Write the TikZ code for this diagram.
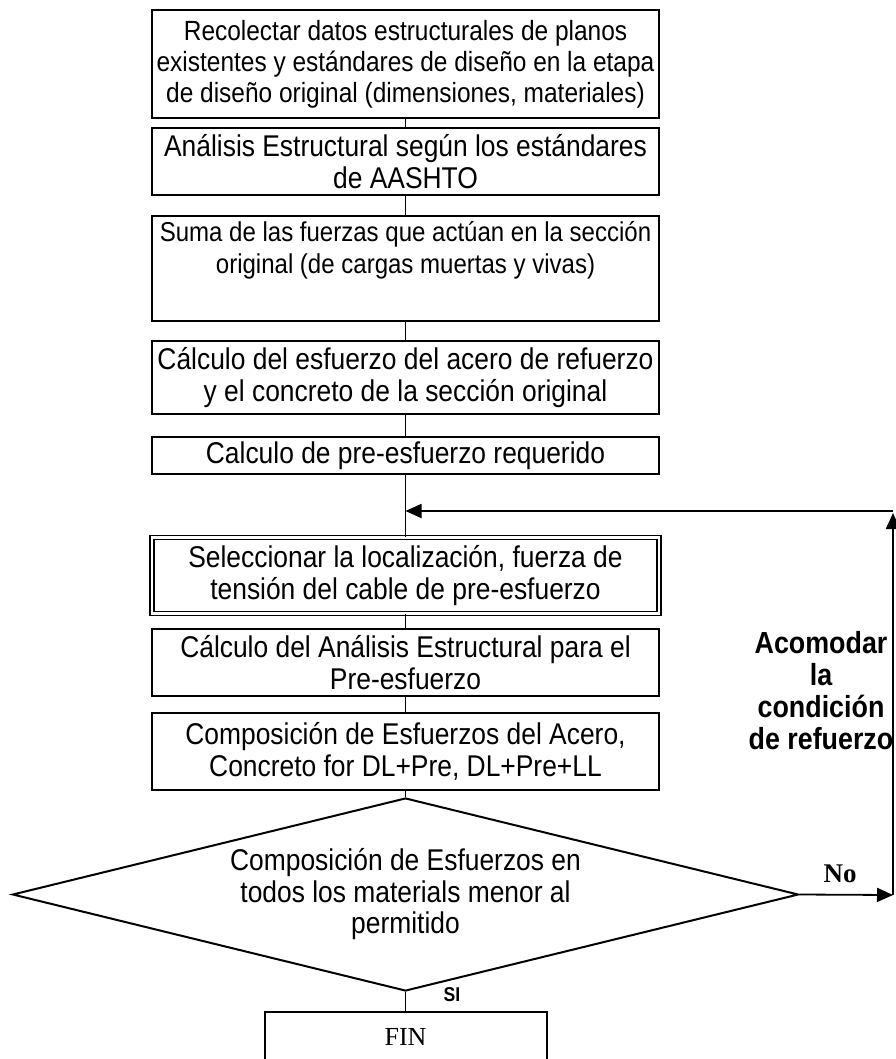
\documentclass[tikz,border=0pt]{standalone}
\usepackage{fontspec}
\setmainfont{Liberation Sans}[FakeStretch=0.88]
\newfontfamily\serifface{Liberation Serif}
\usetikzlibrary{shapes.geometric,arrows.meta}

\begin{document}
\begin{tikzpicture}[x=1pt,y=-1pt,
  stepbox/.style={draw, line width=2pt, minimum width=507pt, align=center,
    inner sep=0pt, font=\fontsize{30}{32}\selectfont},
  link/.style={line width=1.8pt},
  arrowlink/.style={line width=1.8pt, -{Triangle[length=16pt,width=14pt]}},
  ]
\useasboundingbox (0,0) rectangle (895,1059);

% process steps
\node[stepbox, minimum height=108pt, font=\fontsize{27.8}{31}\selectfont] (b1) at (405.5,64)
  {Recolectar datos estructurales de planos\\existentes y estándares de diseño en la etapa\\de diseño original (dimensiones, materiales)};
\node[stepbox, minimum height=67pt] (b2) at (405.5,161.5)
  {Análisis Estructural según los estándares\\de AASHTO};
\node[stepbox, minimum height=105pt, font=\fontsize{27.3}{32}\selectfont] (b3) at (405.5,268.5)
  {Suma de las fuerzas que actúan en la sección\\original (de cargas muertas y vivas)\\\strut};
\node[stepbox, minimum height=73pt] (b4) at (405.5,377.5)
  {Cálculo del esfuerzo del acero de refuerzo\\y el concreto de la sección original};
\node[stepbox, minimum height=37pt] (b5) at (405.5,455.5)
  {Calculo de pre-esfuerzo requerido};
\node[stepbox, minimum height=76pt, line width=1.4pt, double, double distance=2.6pt] (b6) at (405.5,575.5)
  {Seleccionar la localización, fuerza de\\tensión del cable de pre-esfuerzo};
\node[stepbox, minimum height=67pt] (b7) at (405.5,662.5)
  {Cálculo del Análisis Estructural para el\\Pre-esfuerzo};
\node[stepbox, minimum height=77pt] (b8) at (405.5,751.5)
  {Composición de Esfuerzos del Acero,\\Concreto for DL+Pre, DL+Pre+LL};

% decision
\node[diamond, draw, line width=2pt, aspect=4.07, minimum width=786pt, minimum height=193pt,
  inner sep=0pt, align=center, font=\fontsize{30}{31.5}\selectfont] (dec) at (405.5,894.5)
  {Composición de Esfuerzos en\\todos los materials menor al\\permitido};

% end
\node[draw, line width=2pt, minimum width=282pt, minimum height=50pt, inner sep=0pt,
  font=\serifface\fontsize{26}{30}\selectfont] (fin) at (405.5,1037) {FIN};

% labels
\node[font=\bfseries\fontsize{20}{22}\selectfont] (si) at (452,995) {SI};
\node[font=\serifface\bfseries\fontsize{27}{30}\selectfont] (no) at (840,874) {No};
\node[font=\bfseries\fontsize{30.5}{32}\selectfont, align=center] (fix) at (821,691)
  {Acomodar\\la\\condición\\de refuerzo};

% connectors
\draw[link] (b1.south) -- (b2.north);
\draw[link] (b2.south) -- (b3.north);
\draw[link] (b3.south) -- (b4.north);
\draw[link] (b4.south) -- (b5.north);
\draw[link] (b5.south) -- (b6.north);
\draw[link] (b6.south) -- (b7.north);
\draw[link] (b7.south) -- (b8.north);
\draw[link] (b8.south) -- (dec.north);
\draw[link] (dec.south) -- (fin.north);

% feedback loop
\coordinate (noend) at (893,895);
\coordinate (loop) at (893,511);
\draw[arrowlink] (dec.east) -- (noend);
\draw[arrowlink] (noend) -- ([yshift=-2pt]loop);
\draw[arrowlink] (loop) -- (loop -| b5.south);
\end{tikzpicture}
\end{document}
